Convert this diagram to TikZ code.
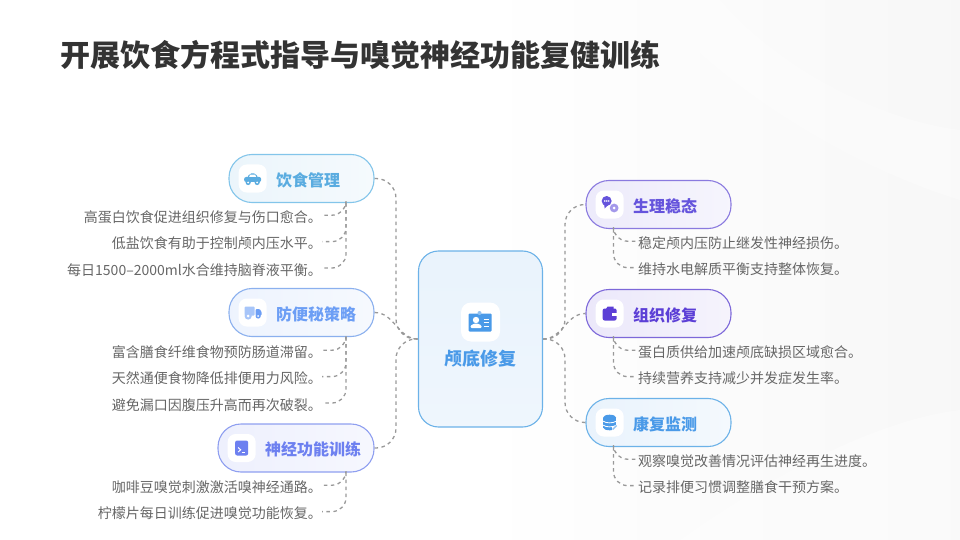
\documentclass[tikz,border=0pt]{standalone}
\usepackage{fontspec}
\setmainfont{Noto Sans CJK SC}
\usetikzlibrary{positioning, arrows.meta}
\definecolor{titleink}{HTML}{333333}
\definecolor{noteink}{HTML}{666666}
\definecolor{linkgray}{HTML}{999999}
\definecolor{sky}{HTML}{5AACE0}
\definecolor{skyline}{HTML}{83C5EA}
\definecolor{azure}{HTML}{6C9EF5}
\definecolor{azureline}{HTML}{8BB0EE}
\definecolor{iris}{HTML}{6D80F0}
\definecolor{irisline}{HTML}{8F9FF0}
\definecolor{violet}{HTML}{6554DC}
\definecolor{violetline}{HTML}{8A7ADF}
\definecolor{grape}{HTML}{5C3FD6}
\definecolor{grapeline}{HTML}{7D68D9}
\definecolor{ocean}{HTML}{4A9AE8}
\definecolor{oceanline}{HTML}{6CB2E8}

\begin{document}
\begin{tikzpicture}[
  x=1pt, y=-1pt,
  topic/.style={rectangle, draw=#1line, line width=1.1pt, rounded corners=23pt,
                left color=#1!12, right color=#1!6, minimum height=48pt, inner sep=0pt},
  iconbox/.style={rectangle, fill=white, rounded corners=8pt, minimum size=28pt, inner sep=0pt},
  topiclabel/.style={font=\fontsize{16}{16}\selectfont\bfseries, text=#1, inner sep=0pt, yshift=-1.5pt},
  note/.style={font=\fontsize{14}{14}\selectfont, text=noteink, minimum height=26pt, inner sep=0pt},
  noteleft/.style={note, anchor=north east},
  noteright/.style={note, anchor=north west},
  link/.style={draw=linkgray, line width=1.3pt, dash pattern=on 3.5pt off 3.5pt},
  twig/.style={link, rounded corners=14pt}
]
\useasboundingbox (0,0) rectangle (960,540);

\shade[left color=white, right color=black!3] (480,0) rectangle (960,540);
\fill[white, opacity=.35] (680,540) .. controls (780,470) and (880,420) .. (960,410) -- (960,540) -- cycle;
\fill[white, opacity=.3] (720,0) .. controls (780,70) and (880,120) .. (960,130) -- (960,200) .. controls (860,170) and (720,90) .. (650,0) -- cycle;

\node[font=\fontsize{30}{30}\selectfont\bfseries, text=titleink, anchor=west, inner sep=0pt] (title) at (60,55) {开展饮食方程式指导与嗅觉神经功能复健训练};

\node[rectangle, draw=oceanline, line width=1.1pt, rounded corners=20pt, top color=ocean!12, bottom color=ocean!9,
      minimum width=124pt, minimum height=176pt, inner sep=0pt] (main) at (480.5,339) {};
\node[iconbox, minimum size=39pt, rounded corners=10pt] (mainicon) at ([yshift=17pt]main.center) {};
\node[font=\fontsize{18}{18}\selectfont\bfseries, text=ocean, below=8pt of mainicon, inner sep=0pt] (mainlabel) {颅底修复};

\node[topic=sky, minimum width=145pt] (diet) at (301.5,178.5) {};
\node[iconbox, right=10pt of diet.west] (dieticon) {};
\node[topiclabel=sky, right=9pt of dieticon] (dietlabel) {饮食管理};
\node[noteleft] (diet1) at (322,204) {高蛋白饮食促进组织修复与伤口愈合。};
\node[noteleft] (diet2) at (diet1.south east) {低盐饮食有助于控制颅内压水平。};
\node[noteleft] (diet3) at (diet2.south east) {每日1500–2000ml水合维持脑脊液平衡。};

\node[topic=azure, minimum width=145pt] (bowel) at (301.5,312.5) {};
\node[iconbox, right=10pt of bowel.west] (bowelicon) {};
\node[topiclabel=azure, right=9pt of bowelicon] (bowellabel) {防便秘策略};
\node[noteleft] (bowel1) at (322,339) {富含膳食纤维食物预防肠道滞留。};
\node[noteleft] (bowel2) at (bowel1.south east) {天然通便食物降低排便用力风险。};
\node[noteleft] (bowel3) at (bowel2.south east) {避免漏口因腹压升高而再次破裂。};

\node[topic=iris, minimum width=156pt] (nerve) at (296,448) {};
\node[iconbox, right=10pt of nerve.west] (nerveicon) {};
\node[topiclabel=iris, right=9pt of nerveicon] (nervelabel) {神经功能训练};
\node[noteleft] (nerve1) at (322,474) {咖啡豆嗅觉刺激激活嗅神经通路。};
\node[noteleft] (nerve2) at (nerve1.south east) {柠檬片每日训练促进嗅觉功能恢复。};

\node[topic=violet, minimum width=145pt] (stable) at (658.5,204.5) {};
\node[iconbox, right=10pt of stable.west] (stableicon) {};
\node[topiclabel=violet, right=9pt of stableicon] (stablelabel) {生理稳态};
\node[noteright] (stable1) at (638,230) {稳定颅内压防止继发性神经损伤。};
\node[noteright] (stable2) at (stable1.south west) {维持水电解质平衡支持整体恢复。};

\node[topic=grape, minimum width=145pt] (tissue) at (658.5,313.5) {};
\node[iconbox, right=10pt of tissue.west] (tissueicon) {};
\node[topiclabel=grape, right=9pt of tissueicon] (tissuelabel) {组织修复};
\node[noteright] (tissue1) at (638,339) {蛋白质供给加速颅底缺损区域愈合。};
\node[noteright] (tissue2) at (tissue1.south west) {持续营养支持减少并发症发生率。};

\node[topic=ocean, minimum width=145pt] (rehab) at (658.5,422.5) {};
\node[iconbox, right=10pt of rehab.west] (rehabicon) {};
\node[topiclabel=ocean, right=9pt of rehabicon] (rehablabel) {康复监测};
\node[noteright] (rehab1) at (638,448) {观察嗅觉改善情况评估神经再生进度。};
\node[noteright] (rehab2) at (rehab1.south west) {记录排便习惯调整膳食干预方案。};

\coordinate (lspine) at (396,339);
\coordinate (rspine) at (565,339);

\draw[link, rounded corners=20pt] (diet.east) -| (lspine) -- (main.west);
\draw[link] (bowel.east) to[out=0, in=180] (main.west);
\draw[link, rounded corners=20pt] (nerve.east) -| (lspine) -- (main.west);
\draw[link, rounded corners=20pt] (main.east) -- (rspine) |- (stable.west);
\draw[link] (main.east) to[out=0, in=180] (tissue.west);
\draw[link, rounded corners=20pt] (main.east) -- (rspine) |- (rehab.west);

\draw[twig] ([xshift=44.5pt]diet.south) |- ([yshift=2pt]diet1.east);
\draw[twig] ([xshift=44.5pt]diet.south) |- ([yshift=2pt]diet2.east);
\draw[twig] ([xshift=44.5pt]diet.south) |- ([yshift=2pt]diet3.east);
\draw[twig] ([xshift=44.5pt]bowel.south) |- ([yshift=2pt]bowel1.east);
\draw[twig] ([xshift=44.5pt]bowel.south) |- ([yshift=2pt]bowel2.east);
\draw[twig] ([xshift=44.5pt]bowel.south) |- ([yshift=2pt]bowel3.east);
\draw[twig] ([xshift=50pt]nerve.south) |- ([yshift=2pt]nerve1.east);
\draw[twig] ([xshift=50pt]nerve.south) |- ([yshift=2pt]nerve2.east);
\draw[twig] ([xshift=-45pt]stable.south) |- ([xshift=-2pt, yshift=2pt]stable1.west);
\draw[twig] ([xshift=-45pt]stable.south) |- ([xshift=-2pt, yshift=2pt]stable2.west);
\draw[twig] ([xshift=-45pt]tissue.south) |- ([xshift=-2pt, yshift=2pt]tissue1.west);
\draw[twig] ([xshift=-45pt]tissue.south) |- ([xshift=-2pt, yshift=2pt]tissue2.west);
\draw[twig] ([xshift=-45pt]rehab.south) |- ([xshift=-2pt, yshift=2pt]rehab1.west);
\draw[twig] ([xshift=-45pt]rehab.south) |- ([xshift=-2pt, yshift=2pt]rehab2.west);

\begin{scope}[shift={(dieticon.center)}]
  \fill[sky, rounded corners=2pt] (-8.5,-1.5) rectangle (8.5,3.5);
  \fill[sky, rounded corners=2pt] (-5.5,0) -- (-3.5,-5) -- (3.5,-5) -- (5.5,0) -- cycle;
  \fill[white] (-3.5,-1.5) -- (-2.5,-3.8) -- (2.5,-3.8) -- (3.5,-1.5) -- cycle;
  \fill[sky] (-4.5,4) circle[radius=2.6pt] (4.5,4) circle[radius=2.6pt];
  \fill[white] (-4.5,4) circle[radius=1pt] (4.5,4) circle[radius=1pt];
\end{scope}

\begin{scope}[shift={(bowelicon.center)}]
  \fill[azure!60, rounded corners=1pt] (-8,-6) rectangle (2,3);
  \fill[azure, rounded corners=1pt] (3,-3.5) -- (7,-3.5) -- (9,-0.5) -- (9,3) -- (3,3) -- cycle;
  \fill[azure!60] (-4.5,3.5) circle[radius=3.6pt];
  \fill[white] (-4.5,3.5) circle[radius=1.5pt];
  \fill[azure] (5.5,3.5) circle[radius=2.6pt];
  \fill[white] (5.5,3.5) circle[radius=1pt];
\end{scope}

\begin{scope}[shift={(nerveicon.center)}]
  \fill[iris, rounded corners=2pt] (-6.5,-7.5) rectangle (6.5,7.5);
  \draw[white, line width=1pt] (-3.5,-0.5) -- (-1,1.8) -- (-3.5,4);
  \draw[white, line width=1pt] (0,4.2) -- (3,4.2);
\end{scope}

\begin{scope}[shift={(stableicon.center)}]
  \fill[violet] (-3,-3.5) circle[radius=5pt];
  \fill[violet] (-5.5,0) -- (-5,4) -- (-1.5,0.5) -- cycle;
  \fill[white] (-5,-3.5) circle[radius=.9pt] (-3,-3.5) circle[radius=.9pt] (-1,-3.5) circle[radius=.9pt];
  \fill[violet!60] (4.5,3.5) circle[radius=4.4pt];
  \fill[white] (4.5,3.5) circle[radius=1.5pt];
\end{scope}

\begin{scope}[shift={(tissueicon.center)}]
  \fill[grape] (-2,-7) -- (4,-7) -- (4,-4) -- (-4,-4) -- cycle;
  \fill[grape, rounded corners=2pt] (-7,-5) rectangle (7,7);
  \fill[white] (2.5,-0.5) rectangle (7.5,2.5);
\end{scope}

\begin{scope}[shift={(rehabicon.center)}]
  \fill[ocean] (-6.5,-5) rectangle (6.5,5);
  \fill[ocean] (0,-5) ellipse[x radius=6.5pt, y radius=2.8pt];
  \fill[ocean] (0,5) ellipse[x radius=6.5pt, y radius=2.8pt];
  \draw[white, line width=.8pt] (-7,-1.5) .. controls (-3,1) and (3,1) .. (7,-1.5);
  \draw[white, line width=.8pt] (-7,2.5) .. controls (-3,5) and (3,5) .. (7,2.5);
  \fill[white] (2,3) rectangle (8,9);
  \draw[ocean!60, line width=1.4pt] (3,7) -- (7,3);
\end{scope}

\begin{scope}[shift={(mainicon.center)}]
  \fill[ocean, rounded corners=1pt] (-12,-8.5) rectangle (11,9.5);
  \fill[ocean!60] (-1,-9) circle[radius=2pt];
  \fill[white] (-4.5,-2) circle[radius=3.2pt];
  \fill[white, rounded corners=1pt] (-10,6) -- (-10,3.5) -- (-6,1.5) -- (-3,1.5) -- (1,3.5) -- (1,6) -- cycle;
  \draw[white, line width=1pt] (3,-3) -- (8,-3) (3,0.5) -- (8,0.5) (3,4) -- (8,4);
\end{scope}
\end{tikzpicture}
\end{document}
